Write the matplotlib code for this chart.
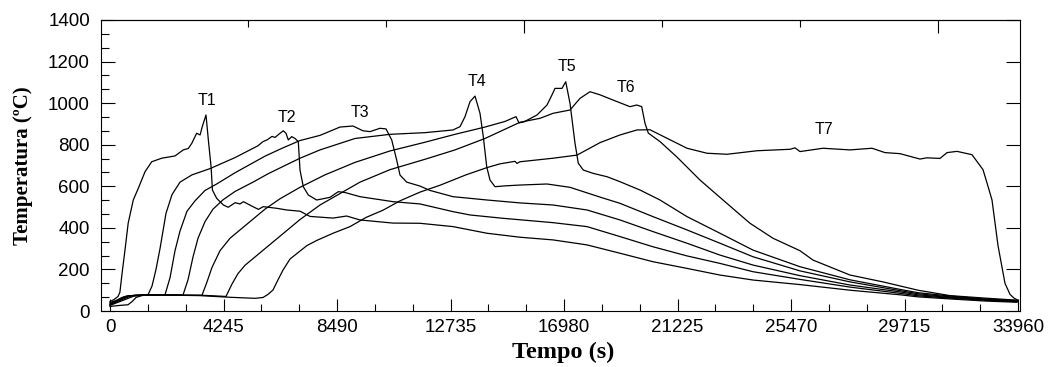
import matplotlib
matplotlib.use('Agg')
import matplotlib.pyplot as plt

plt.rcParams['font.family'] = ['Liberation Sans', 'DejaVu Sans']

# time (s) / temperature (C)
t_T1 = [0, 150, 300, 370, 450, 560, 680, 870, 1060, 1310, 1560, 1930, 2430, 2740, 2930, 3060,
        3240, 3370, 3450, 3590, 3680, 3780, 3830, 3990, 4240, 4420, 4680, 4860, 4990, 5300,
        5550, 5730, 6240, 6610, 7110, 7480, 8340, 8850, 9350, 10580, 11590, 12830, 14100,
        15330, 16570, 17840, 19070, 20310, 21580, 22810, 24050, 25810, 27680, 29550, 30220,
        31420, 32730, 33920]
T1 = [45, 55, 70, 90, 180, 293, 423, 534, 591, 670, 718, 735, 746, 775, 782, 807,
      855, 847, 887, 943, 820, 694, 582, 542, 510, 499, 521, 515, 526, 505,
      489, 502, 494, 486, 480, 455, 447, 457, 438, 423, 422, 406, 374,
      355, 342, 318, 278, 237, 205, 173, 149, 127, 100, 78, 68,
      58, 48, 42]

t_T2 = [0, 224, 449, 673, 1122, 1421, 1571, 1720, 1870, 2094, 2319, 2618, 3067, 3740, 4675,
        5535, 5722, 5872, 6059, 6171, 6358, 6481, 6582, 6668, 6796, 6919, 7042, 7106, 7229,
        7416, 7731, 7966, 8228, 8538, 8789, 9350, 10584, 11594, 12828, 13464, 14698, 16568,
        17840, 19074, 20308, 21580, 22814, 24048, 25806, 27676, 29546, 30219, 31416, 32725,
        33922]
T2 = [40, 50, 65, 73, 76, 78, 120, 200, 300, 470, 560, 620, 655, 685, 738,
      795, 815, 823, 840, 835, 855, 867, 855, 823, 839, 830, 815, 678, 598,
      558, 534, 540, 547, 574, 570, 550, 526, 515, 478, 462, 446, 425,
      406, 358, 309, 265, 229, 189, 152, 115, 85, 73, 62, 52,
      45]

t_T3 = [0, 561, 935, 2057, 2244, 2431, 2618, 2880, 3179, 3553, 4002, 4675, 5236, 5797, 6470,
        7106, 7854, 8602, 9088, 9462, 9724, 10098, 10322, 10536, 10722, 10846, 11096, 11594,
        11968, 12828, 14100, 15334, 16568, 17840, 19074, 20308, 21580, 22814, 24048, 25806,
        27676, 29546, 30219, 31416, 32725, 33922]
T3 = [35, 70, 76, 78, 160, 290, 385, 480, 530, 580, 612, 665, 705, 745, 785,
      820, 845, 885, 890, 867, 863, 879, 876, 823, 726, 654, 620, 601,
      580, 550, 534, 520, 510, 486, 438, 382, 326, 269, 221, 170,
      125, 92, 78, 65, 54, 46]

t_T4 = [0, 673, 1122, 2730, 2917, 3104, 3291, 3553, 3852, 4226, 4675, 5348, 5909, 6545, 7106,
        7854, 9163, 10472, 11781, 12828, 13090, 13277, 13464, 13651, 13838, 13961, 14089,
        14212, 14399, 14773, 15334, 16344, 17204, 18326, 19074, 20308, 21580, 22814, 24048,
        25806, 27676, 29546, 30219, 31416, 32725, 33922]
T4 = [32, 72, 77, 77, 150, 260, 350, 430, 490, 535, 575, 620, 660, 700, 735,
      775, 830, 850, 858, 871, 887, 935, 1007, 1034, 951, 839, 694,
      630, 598, 602, 606, 611, 595, 548, 518, 454, 390, 326, 261,
      193, 140, 98, 83, 68, 56, 47]

t_T5 = [0, 785, 1309, 3441, 3628, 3815, 4114, 4488, 4862, 5236, 5797, 6358, 7106, 8041, 9163,
        10472, 11781, 12903, 14025, 14773, 15184, 15297, 15484, 15970, 16344, 16531, 16643,
        16905, 17044, 17204, 17391, 17514, 17701, 18075, 18588, 19074, 19822, 20570, 21580,
        22814, 24048, 25806, 27676, 29546, 30219, 31416, 32725, 33922]
T5 = [30, 73, 77, 76, 140, 210, 290, 350, 390, 430, 490, 540, 595, 655, 715,
      770, 812, 850, 885, 912, 935, 905, 910, 943, 991, 1040, 1071,
      1071, 1103, 999, 807, 711, 678, 662, 646, 622, 582, 534, 454,
      374, 293, 213, 150, 104, 88, 72, 58, 50]

t_T6 = [0, 898, 1496, 3553, 4338, 4563, 4787, 5049, 5423, 5984, 6545, 7106, 7854, 8602, 9350,
        10472, 11781, 12903, 14025, 15334, 16082, 16568, 17204, 17578, 17952, 18326, 18812,
        19448, 19699, 19886, 20009, 20132, 20570, 21194, 22066, 22926, 23936, 24796, 25806,
        26292, 27676, 28910, 30219, 31416, 32725, 33922]
T6 = [27, 72, 77, 75, 70, 130, 180, 220, 260, 320, 380, 440, 510, 565, 620,
      680, 730, 775, 830, 908, 927, 951, 967, 1023, 1055, 1040, 1015,
      983, 991, 983, 903, 856, 815, 742, 630, 534, 422, 350, 290,
      245, 173, 140, 100, 74, 62, 52]

t_T7 = [0, 374, 673, 823, 972, 1197, 1870, 3366, 4488, 5423, 5722, 5909, 6096, 6283, 6470,
        6732, 6994, 7368, 7742, 8340, 8976, 9574, 10210, 10846, 11594, 12342, 13314, 14100,
        14586, 15147, 15222, 15334, 16568, 17466, 18326, 19074, 19710, 20196, 20832, 21580,
        22328, 23076, 24198, 25432, 25619, 25806, 26666, 27676, 28499, 28985, 29546, 30294,
        30556, 31042, 31304, 31678, 32239, 32650, 32837, 32987, 33211, 33473, 33660, 33810,
        33959]
T7 = [22, 27, 30, 45, 65, 75, 77, 74, 66, 61, 65, 80, 101, 150, 197,
      250, 277, 315, 340, 374, 406, 450, 485, 530, 572, 605, 655, 690,
      708, 720, 710, 718, 735, 750, 810, 847, 871, 872, 831, 783,
      759, 754, 771, 778, 785, 767, 783, 775, 783, 762, 757, 731,
      737, 734, 762, 768, 752, 680, 600, 534, 315, 133, 80, 62,
      52]

curve_names = ['T1', 'T2', 'T3', 'T4', 'T5', 'T6', 'T7']
label_t = [3615, 6620, 9350, 13714, 17080, 19292, 26710]
label_temp = [1013, 931, 953, 1103, 1175, 1073, 873]

x_ticks = [0, 4245, 8490, 12735, 16980, 21225, 25470, 29715, 33960]
y_ticks = [0, 200, 400, 600, 800, 1000, 1200, 1400]
top_ticks_major = [15480, 30960]
top_ticks_minor = [5160, 10320, 20640, 25800]

fig = plt.figure(figsize=(10.51, 3.67), dpi=100)
ax = fig.add_axes([101 / 1051, 56 / 367, 919 / 1051, 291 / 367])

series = [(t_T1, T1), (t_T2, T2), (t_T3, T3), (t_T4, T4), (t_T5, T5), (t_T6, T6), (t_T7, T7)]
for t, temp in series:
    ax.plot(t, temp, color='black', lw=0.9)

for name, lt, lv in zip(curve_names, label_t, label_temp):
    ax.text(lt, lv, name, ha='center', va='center', fontsize=11.5)

ax.set_xlim(-337, 34034)
ax.set_ylim(0, 1400)

ax.set_xticks(x_ticks)
ax.set_xticks([x + 1415 * k for x in x_ticks[:-1] for k in (1, 2)], minor=True)
ax.set_yticks(y_ticks)
ax.set_yticks([y + 66.67 * k for y in y_ticks[:-1] for k in (1, 2)], minor=True)

ax.tick_params(which='both', direction='in', labelsize=13.5, width=0.8)
ax.tick_params(which='major', right=True)
ax.tick_params(axis='x', which='major', length=9, pad=6)
ax.tick_params(axis='x', which='minor', length=5)
ax.tick_params(axis='y', which='major', length=10, pad=8)
ax.tick_params(axis='y', which='minor', length=6)

# top axis carries its own tick marks, no labels
top = ax.secondary_xaxis('top')
top.set_xticks(top_ticks_major)
top.set_xticks(top_ticks_minor, minor=True)
top.tick_params(which='both', direction='in', labeltop=False, width=0.8)
top.tick_params(which='major', length=9)
top.tick_params(which='minor', length=5)
top.spines['top'].set_linewidth(0.8)

for s in ax.spines.values():
    s.set_linewidth(0.8)

fig.text(563 / 1051, 1 - 352 / 367, 'Tempo (s)', ha='center', va='center',
         fontsize=17.5, fontweight='bold', family='Liberation Serif')
fig.text(23 / 1051, 1 - 166 / 367, 'Temperatura (ºC)', ha='center', va='center',
         rotation=90, fontsize=15, fontweight='bold', family='Liberation Serif')

fig.savefig('out.png', dpi=100)
